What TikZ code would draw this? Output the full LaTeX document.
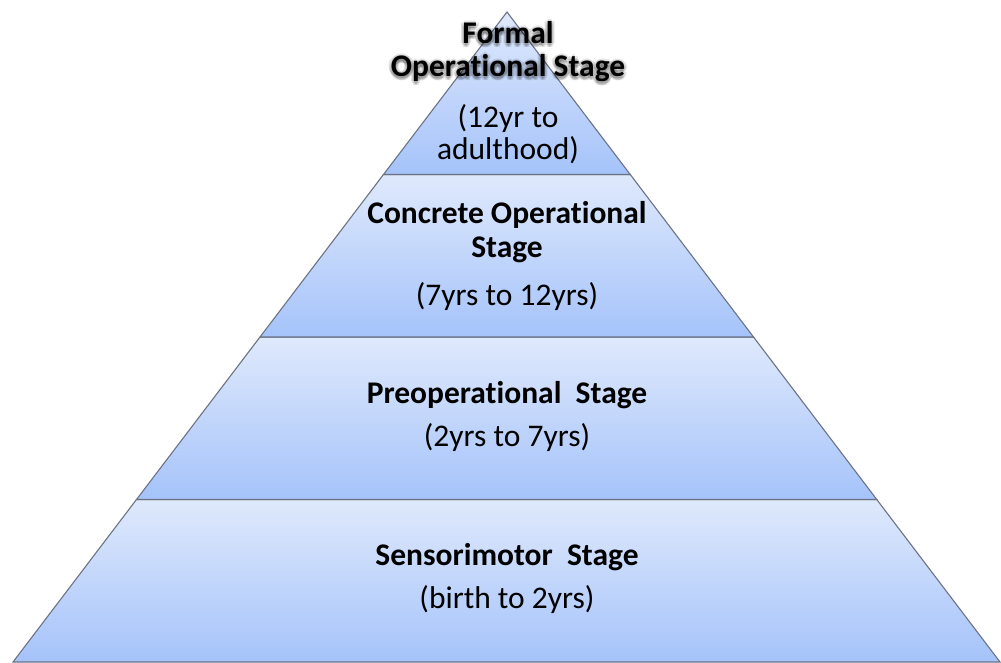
\documentclass[tikz,border=0pt]{standalone}
\usepackage{fontspec}
\setmainfont[Ligatures=CommonOff]{Carlito}
\usetikzlibrary{calc}
\definecolor{bandtop}{HTML}{DFE9FC}
\definecolor{bandbot}{HTML}{A5C3FA}
\definecolor{edge}{HTML}{6B7384}
\tikzset{
  band/.style={draw=edge, line width=1.1pt, line join=miter, top color=bandtop, bottom color=bandbot},
  title/.style={anchor=base, inner sep=0pt, font=\fontsize{31.5}{36}\selectfont\bfseries},
  sub/.style={anchor=base, inner sep=0pt, font=\fontsize{31.5}{36}\selectfont},
}
\begin{document}
\begin{tikzpicture}[x=1pt,y=-1pt]
\useasboundingbox (0,0) rectangle (1001,663);
% outline of the pyramid
\coordinate (apex) at (507,12);
\coordinate (bl) at (13,662);
\coordinate (br) at (1000,662);
\coordinate (l1) at ($(apex)!0.25!(bl)$);
\coordinate (r1) at ($(apex)!0.25!(br)$);
\coordinate (l2) at ($(apex)!0.5!(bl)$);
\coordinate (r2) at ($(apex)!0.5!(br)$);
\coordinate (l3) at ($(apex)!0.75!(bl)$);
\coordinate (r3) at ($(apex)!0.75!(br)$);
% the four stage bands
\path[band] (bl) -- (br) -- (r3) -- (l3) -- cycle;
\path[band] (l3) -- (r3) -- (r2) -- (l2) -- cycle;
\path[band] (l2) -- (r2) -- (r1) -- (l1) -- cycle;
\path[band] (l1) -- (r1) -- (apex) -- cycle;
% soft halo behind the top label
\foreach \dx/\dy in {-3/0,3/0,0/-2,0/3,-2/2,2/2,1/4,-1/4}{
  \node[title, text=black, opacity=0.1] at (508+\dx,44+\dy) {Formal};
  \node[title, text=black, opacity=0.1] at (508+\dx,77+\dy) {Operational Stage};
}
% labels
\node[title] (f1) at (508,44) {Formal};
\node[title] (f2) at (508,77) {Operational Stage};
\node[sub] (f3) at (508,128) {(12yr to};
\node[sub] (f4) at (508,160) {adulthood)};
\node[title] (c1) at (507,223) {Concrete Operational};
\node[title] (c2) at (507,257) {Stage};
\node[sub] (c3) at (507,305) {(7yrs to 12yrs)};
\node[title] (p1) at (507,403) {Preoperational\ \ Stage};
\node[sub] (p2) at (507,446) {(2yrs to 7yrs)};
\node[title] (s1) at (507,565) {Sensorimotor\ \ Stage};
\node[sub] (s2) at (507,608) {(birth to 2yrs)};
\end{tikzpicture}
\end{document}
